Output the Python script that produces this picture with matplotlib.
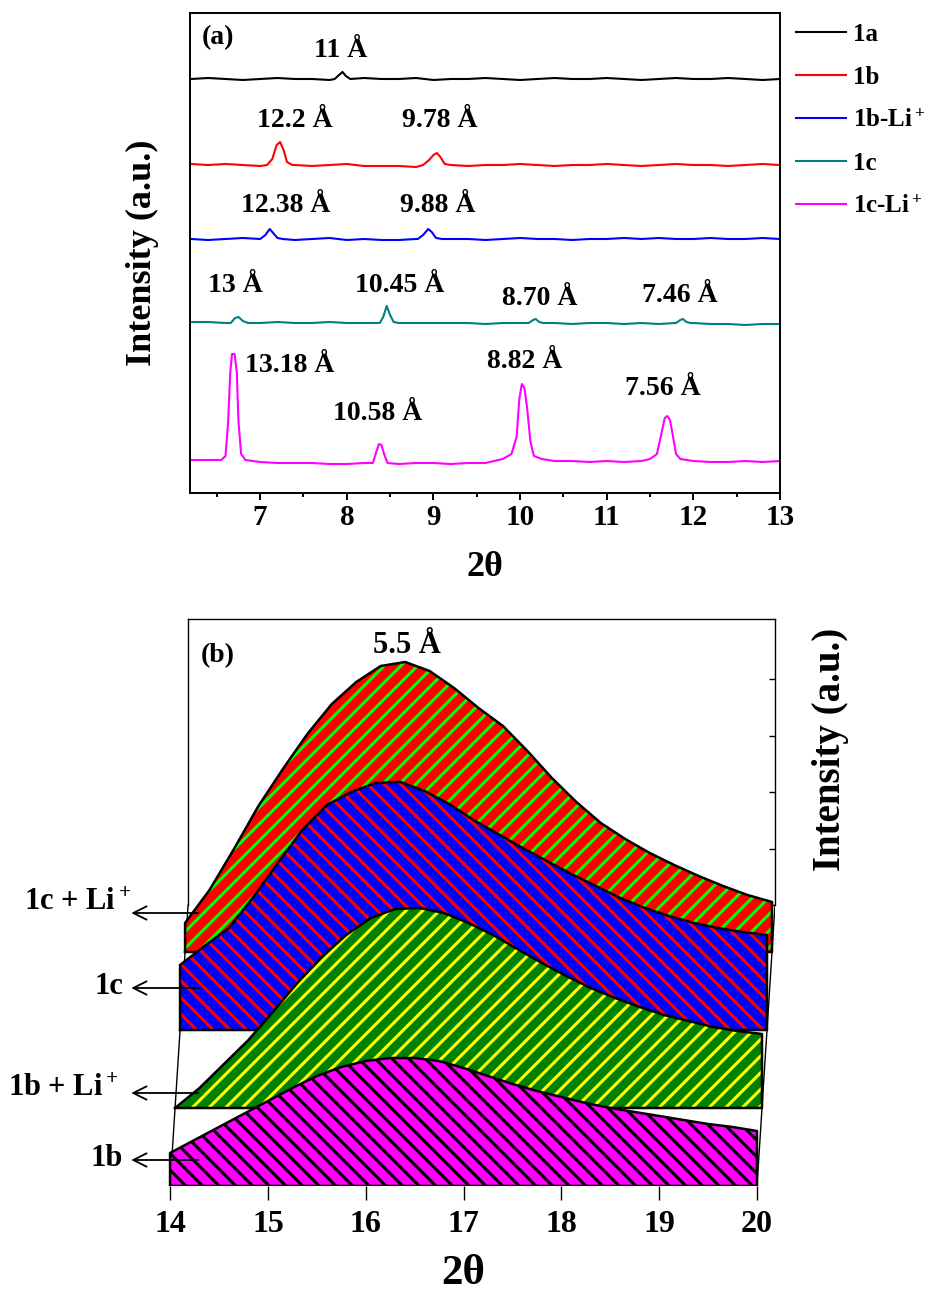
import numpy as np
import matplotlib.pyplot as plt

plt.rcParams['font.family'] = 'serif'
plt.rcParams['font.serif'] = ['Liberation Serif', 'DejaVu Serif']
plt.rcParams['font.weight'] = 'bold'
plt.rcParams['mathtext.fontset'] = 'custom'
plt.rcParams['mathtext.rm'] = 'Liberation Serif:bold'
plt.rcParams['mathtext.it'] = 'Liberation Serif:bold'
plt.rcParams['mathtext.bf'] = 'Liberation Serif:bold'
plt.rcParams['hatch.linewidth'] = 2.2

# ---------------- panel (a): XRD traces ----------------
grid_a = np.round(np.linspace(6.2, 13.0, 35), 2)

names_a = ['1a', '1b', '1b-Li$^+$', '1c', '1c-Li$^+$']
colors_a = ['black', '#ff0000', '#0000ff', '#008080', '#ff00ff']
offsets_a = [414, 328, 254, 170, 31]

bg_1a = [0, 1, 0, -1, 0, 1, 0, 0, -1, 0, 1, 0, 0, 1, -1, 0, 0, 1, 0, -1, 0, 1, 0, 0, 1, 0, -1, 0, 1, 0, 0, 1, 0, -1, 0]
bg_1b = [1, 0, 1, 0, -1, 0, 0, -1, 0, 1, -1, -1, -1, -2, -1, 0, -1, 0, 0, 1, 0, -1, 0, 0, 1, 0, -1, 0, 1, 0, 0, -1, 0, 1, 0]
bg_1bLi = [0, -1, 0, 1, 0, 0, -1, 0, 1, -1, 0, -1, -1, 0, -1, 0, 0, -1, 0, 1, 0, 0, -1, 0, 0, 1, 0, 1, 0, 0, 1, 0, 0, 1, 0]
bg_1c = [1, 1, 0, 1, 0, 1, 0, 0, 1, 0, 0, 0, -1, 0, 0, 0, 0, -1, 0, 0, -1, 0, -1, 0, 0, -1, 0, -1, -1, 0, -1, -1, -2, -1, -1]
bg_1cLi = [2, 2, 1, 1, 0, -1, -1, -1, -2, -2, -1, -2, -2, -1, -1, -2, -1, -1, -2, 0, 0, 1, 1, 0, 1, 0, 1, 1, 0, 1, 0, 0, 1, 0, 1]
bgs_a = [bg_1a, bg_1b, bg_1bLi, bg_1c, bg_1cLi]

peaks_1a = [[(7.86, 0), (7.91, 4), (7.95, 7), (7.99, 3), (8.04, 0)]]
peaks_1b = [[(7.08, 0), (7.14, 6), (7.19, 20), (7.23, 23), (7.27, 15), (7.31, 3), (7.37, 0)],
            [(8.88, 0), (8.95, 5), (9.00, 10), (9.04, 12), (9.08, 8), (9.13, 1), (9.20, 0)]]
peaks_1bLi = [[(7.00, 0), (7.06, 4), (7.11, 10), (7.15, 6), (7.20, 1), (7.26, 0)],
              [(8.82, 0), (8.88, 4), (8.94, 10), (8.98, 7), (9.03, 1), (9.10, 0)]]
peaks_1c = [[(6.66, 0), (6.71, 5), (6.75, 6), (6.80, 2), (6.86, 0)],
            [(8.38, 0), (8.42, 6), (8.46, 17), (8.50, 8), (8.54, 1), (8.60, 0)],
            [(10.10, 0), (10.15, 3), (10.18, 4), (10.22, 1), (10.27, 0)],
            [(11.80, 0), (11.85, 3), (11.88, 4), (11.92, 1), (11.97, 0)]]
peaks_1cLi = [[(6.55, 2), (6.60, 6), (6.63, 40), (6.655, 90), (6.675, 108), (6.705, 108), (6.73, 90), (6.75, 40), (6.78, 8), (6.83, 2)],
              [(8.30, -1), (8.34, 10), (8.37, 18), (8.40, 17), (8.43, 8), (8.47, -1)],
              [(9.80, 3), (9.90, 8), (9.96, 25), (9.99, 62), (10.02, 78), (10.05, 74), (10.08, 55), (10.12, 20), (10.16, 6), (10.25, 3)],
              [(11.50, 3), (11.58, 8), (11.63, 28), (11.67, 44), (11.70, 46), (11.73, 42), (11.76, 28), (11.80, 8), (11.85, 3)]]
peaks_a = [peaks_1a, peaks_1b, peaks_1bLi, peaks_1c, peaks_1cLi]

labels_a = ['11 Å', '12.2 Å', '9.78 Å', '12.38 Å', '9.88 Å', '13 Å', '10.45 Å', '8.70 Å', '7.46 Å',
            '13.18 Å', '10.58 Å', '8.82 Å', '7.56 Å']
label_x_a = [7.93, 7.40, 9.07, 7.29, 9.05, 6.72, 8.61, 10.23, 11.84, 7.34, 8.36, 10.05, 11.65]
label_y_a = [436, 366, 366, 281, 281, 201, 201, 188, 191, 121, 73, 125, 98]

# ---------------- panel (b): stacked amorphous humps ----------------
theta_b = [14.0, 14.25, 14.5, 14.75, 15.0, 15.25, 15.5, 15.75, 16.0, 16.25, 16.5, 16.75, 17.0,
           17.25, 17.5, 17.75, 18.0, 18.25, 18.5, 18.75, 19.0, 19.25, 19.5, 19.75, 20.0]
h_1b = [33, 46, 59, 72, 85, 98, 110, 119, 125, 128, 128, 125, 118,
        110, 102, 95, 89, 83, 78, 74, 70, 66, 62, 59, 55]
h_1bLi = [0, 20, 44, 68, 96, 125, 151, 173, 190, 199, 200, 195, 185,
          173, 159, 145, 132, 120, 110, 101, 93, 87, 81, 77, 74]
h_1c = [65, 84, 102, 133, 167, 200, 225, 238, 247, 248, 239, 226, 210,
        196, 182, 169, 156, 144, 132, 122, 114, 107, 102, 98, 95]
h_1cLi = [29, 62, 103, 146, 183, 218, 248, 270, 286, 290, 281, 264, 244,
          226, 201, 174, 150, 129, 113, 99, 87, 76, 66, 57, 50]

names_b = ['1b', '1b + Li$^+$', '1c', '1c + Li$^+$']
heights_b = [h_1b, h_1bLi, h_1c, h_1cLi]
face_b = ['#ff00ff', '#008000', '#0000ff', '#ff0000']
hatchcol_b = ['black', '#ffff00', '#ff0000', '#00ff00']
hatch_b = ['\\\\', '//', '\\\\', '//']


def trace(bg, peaks):
    x = list(grid_a)
    y = list(bg)
    for pk in peaks:
        lo, hi = pk[0][0], pk[-1][0]
        keep = [(a, b) for a, b in zip(x, y) if not lo <= a <= hi]
        x = [a for a, _ in keep] + [p[0] for p in pk]
        y = [b for _, b in keep] + [p[1] for p in pk]
    order = np.argsort(x)
    return np.array(x)[order], np.array(y)[order]


fig = plt.figure(figsize=(9.38, 13.06), dpi=100)
W, H = 938, 1306

# ---- panel (a)
ax1 = fig.add_axes([190 / W, (H - 493) / H, 590 / W, 480 / H])
for name, col, off, bg, pk in zip(names_a, colors_a, offsets_a, bgs_a, peaks_a):
    x, y = trace(bg, pk)
    ax1.plot(x, y + off, color=col, lw=1.5, label=name)
for t, x, y in zip(labels_a, label_x_a, label_y_a):
    ax1.text(x, y, t, ha='center', va='baseline', fontsize=20, fontweight='bold')
ax1.text(0.02, 0.935, '(a)', transform=ax1.transAxes, fontsize=20, fontweight='bold', va='baseline')
ax1.set_xlim(6.19, 13.0)
ax1.set_ylim(0, 480)
ax1.set_xticks([7, 8, 9, 10, 11, 12, 13])
ax1.set_xticks(np.arange(6.5, 13.0, 1.0), minor=True)
ax1.set_yticks([])
ax1.tick_params(axis='x', which='major', direction='out', length=5, width=1.4, labelsize=21, pad=3)
ax1.tick_params(axis='x', which='minor', direction='out', length=3, width=1.4)
for sp in ax1.spines.values():
    sp.set_linewidth(1.4)
ax1.set_xlabel('2θ', fontsize=26, fontweight='bold', labelpad=14)
ax1.set_ylabel('Intensity (a.u.)', fontsize=26, fontweight='bold', labelpad=22)
ax1.legend(loc='upper left', bbox_to_anchor=(1.01, 1.0), frameon=False, fontsize=18,
           handlelength=2.0, handletextpad=0.3, borderaxespad=0.0, labelspacing=0.8)

# ---- panel (b)
dx = 5 / 97.83
dy = 78.0
back = 3.6
x0 = 14.0 + back * dx
x1 = 20.0 + back * dx
y0 = back * dy
ax2 = fig.add_axes([150.5 / W, (H - 1186) / H, 624.5 / W, 567 / H])
ax2.set_xlim(13.8, x1)
ax2.set_ylim(0, 567)

for d in range(3, -1, -1):
    xs = np.array(theta_b) + d * dx
    base = d * dy
    top = base + np.array(heights_b[d])
    ax2.fill_between(xs, base, top, facecolor=face_b[d], edgecolor=hatchcol_b[d],
                     hatch=hatch_b[d], linewidth=0, zorder=10 - d)
    ax2.plot(np.r_[xs[0], xs, xs[-1], xs[0]], np.r_[base, top, base, base],
             color='black', lw=1.8, zorder=10 - d, solid_joinstyle='round')

ax2.plot([14.0, x0], [0, y0], color='black', lw=1.0, zorder=1)
ax2.plot([20.0, x1], [0, y0], color='black', lw=1.0, zorder=1)

ax2.spines['bottom'].set_visible(False)
ax2.spines['top'].set_bounds(x0, x1)
ax2.spines['right'].set_bounds(y0, 567)
ax2.spines['left'].set_position(('data', x0))
ax2.spines['left'].set_bounds(y0, 567)
for sp in ax2.spines.values():
    sp.set_linewidth(1.0)
    sp.set_zorder(0.5)

ax2.set_xticks([14, 15, 16, 17, 18, 19, 20])
ax2.tick_params(axis='x', direction='out', length=10, width=1.0, labelsize=23, pad=7)
ax2.yaxis.tick_right()
ax2.set_yticks([y0 + k * 56.5 for k in range(5)])
ax2.set_yticklabels([])
ax2.tick_params(axis='y', direction='in', length=4, width=1.0)
ax2.yaxis.set_label_position('right')
ax2.set_ylabel('Intensity (a.u.)', fontsize=28, fontweight='bold')
ax2.yaxis.set_label_coords(1.06, 0.77)
ax2.set_xlabel('2θ', fontsize=31, fontweight='bold', labelpad=12)

ax2.text(14.485, 524, '(b)', ha='center', va='baseline', fontsize=20, fontweight='bold')
ax2.text(16.42, 533, '5.5 Å', ha='center', va='baseline', fontsize=22, fontweight='bold')

arrow_y_b = [26, 93, 198, 273]
text_y_b = [28, 97, 200, 283]
text_x_b = [13.52, 13.47, 13.52, 13.6]
for name, ay, ty, tx in zip(names_b, arrow_y_b, text_y_b, text_x_b):
    ax2.annotate('', xy=(13.575, ay), xytext=(14.32, ay), annotation_clip=False,
                 arrowprops=dict(arrowstyle='->', color='black', lw=1.3, mutation_scale=24),
                 zorder=20)
    ax2.text(tx, ty, name, ha='right', va='center', fontsize=22, fontweight='bold', clip_on=False)

fig.savefig('out.png', dpi=100)
